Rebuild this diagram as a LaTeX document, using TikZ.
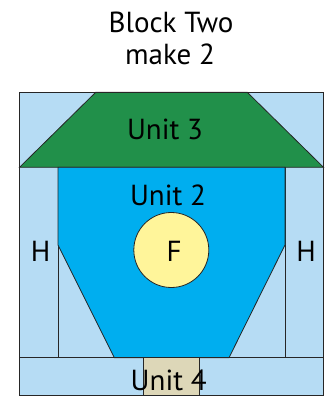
\documentclass[tikz,border=0pt]{standalone}
\usepackage{fontspec}
\setmainfont{PT Sans}
\definecolor{lblue}{HTML}{B6DCF4}
\definecolor{ugreen}{HTML}{21904A}
\definecolor{ucyan}{HTML}{00AEEF}
\definecolor{uyellow}{HTML}{FFF59A}
\definecolor{utan}{HTML}{DDD7B8}
\begin{document}
\begin{tikzpicture}[x=1pt,y=-1pt,
  edge/.style={draw=black!85,line width=0.8pt,line join=miter},
  lbl/.style={font=\fontsize{29}{32}\selectfont,inner sep=0pt,anchor=base}]
\useasboundingbox (0,0) rectangle (327,396);
% outer square
\coordinate (tl) at (19.5,92.3);
\coordinate (br) at (323.5,395);
\fill[lblue] (tl) rectangle (br);
% unit 3 trapezoid
\path[fill=ugreen,edge] (19.5,167.3) -- (95.7,92.3) -- (247.3,92.3) -- (323.5,167.3) -- cycle;
% columns
\draw[edge] (58,167.3) -- (58,357.7);
\draw[edge] (285,167.3) -- (285,357.7);
% unit 2 polygon
\path[fill=ucyan,edge] (58,167.3) -- (58,245) -- (114.3,357.7) -- (229,357.7) -- (285,245) -- (285,167.3) -- cycle;
% bottom strip
\draw[edge] (19.5,357.7) -- (323.5,357.7);
\path[fill=utan,edge] (143.3,357.7) rectangle (199.3,395);
% circle
\node[circle,fill=uyellow,edge,minimum size=75pt,inner sep=0pt] (f) at (171.3,250) {};
% outer frame
\draw[edge] (tl) rectangle (br);
% labels
\node[lbl] (t1) at (171,33) {Block Two};
\node[lbl] (t2) at (170,65) {make 2};
\node[lbl] (u3) at (165,139) {Unit 3};
\node[lbl] (u2) at (168,205.7) {Unit 2};
\node[lbl] (hl) at (40.5,261.7) {H};
\node[lbl] (hr) at (306,261.7) {H};
\node[lbl] (fl) at (174,261.7) {F};
\node[lbl] (u4) at (168.7,390) {Unit 4};
\end{tikzpicture}
\end{document}
